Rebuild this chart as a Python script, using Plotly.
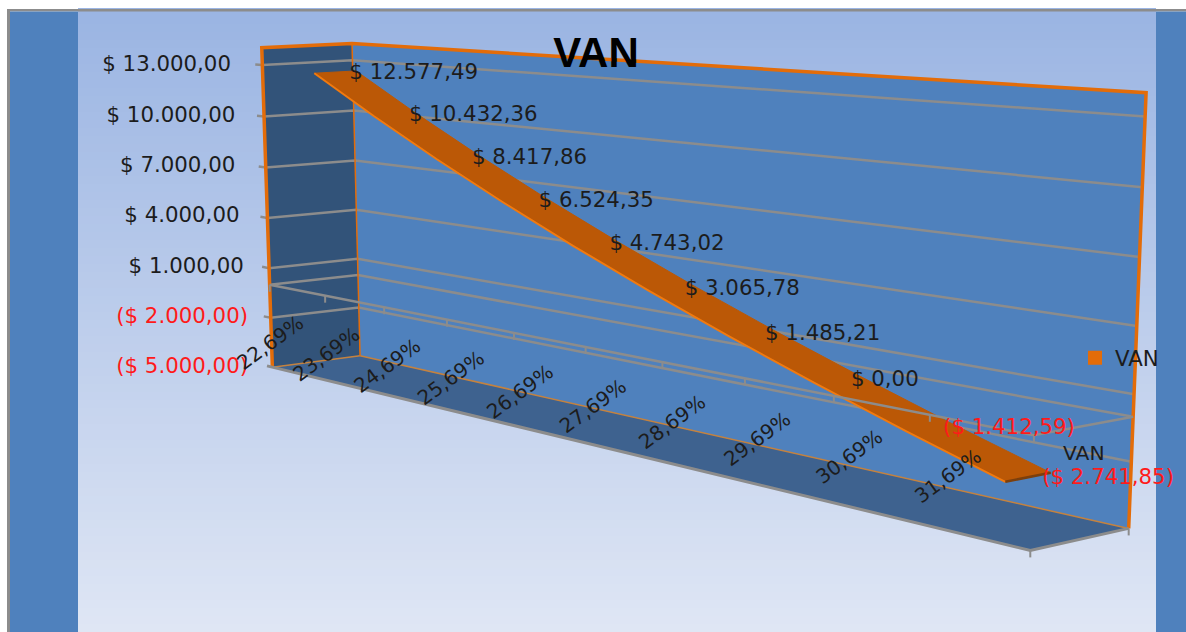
import numpy as np
import plotly.graph_objects as go

# ---- chart data ----
categories = ["22,69%", "23,69%", "24,69%", "25,69%", "26,69%", "27,69%", "28,69%", "29,69%", "30,69%", "31,69%"]
van_values = [12577.49, 10432.36, 8417.86, 6524.35, 4743.02, 3065.78, 1485.21, 0.00, -1412.59, -2741.85]
van_labels = ["$ 12.577,49", "$ 10.432,36", "$ 8.417,86", "$ 6.524,35", "$ 4.743,02", "$ 3.065,78",
              "$ 1.485,21", "$ 0,00", "($ 1.412,59)", "($ 2.741,85)"]
axis_values = [13000, 10000, 7000, 4000, 1000, -2000, -5000]
axis_labels = ["$ 13.000,00", "$ 10.000,00", "$ 7.000,00", "$ 4.000,00", "$ 1.000,00", "($ 2.000,00)", "($ 5.000,00)"]
series_name = "VAN"

# ---- view of the 3-D box: (category pos, value, depth) seen at (px, py) ----
W, H = 1186, 632
VMIN, VMAX = -5000, 14000
view = [
    (0, VMAX, 1, 352, 44), (10, VMAX, 1, 1146, 92), (10, VMIN, 1, 1130, 528), (0, VMIN, 1, 360, 356),
    (0, VMAX, 0, 262, 47), (0, VMIN, 0, 272, 366), (10, VMIN, 0, 1030, 549),
    (0, 0, 0, 270, 284), (10, 0, 0, 1034, 437), (10, 0, 1, 1132, 417), (0, 0, 1, 358, 275),
    (1, 0, 0, 325, 297), (2, 0, 0, 384, 308), (3, 0, 0, 447, 320), (9, 0, 0, 930, 415),
]
A, b = [], []
for k, v, d, px, py in view:
    X, Y, Z = k, v / 1000, d
    A.append([X, Y, Z, 1, 0, 0, 0, 0, -px * X, -px * Y, -px * Z]); b.append(px)
    A.append([0, 0, 0, 0, X, Y, Z, 1, -py * X, -py * Y, -py * Z]); b.append(py)
p = np.linalg.lstsq(np.array(A, float), np.array(b, float), rcond=None)[0]

PX_PER_VALUE = (366 - 63.7) / 18000
def to_y(py):
    return -5000 + (366 - np.asarray(py, float)) / PX_PER_VALUE

def pix(k, v, d):
    X, Y, Z = np.asarray(k, float), np.asarray(v, float) / 1000, np.asarray(d, float)
    w = p[8] * X + p[9] * Y + p[10] * Z + 1
    return (p[0] * X + p[1] * Y + p[2] * Z + p[3]) / w, (p[4] * X + p[5] * Y + p[6] * Z + p[7]) / w

def path(points):
    xs, ys = [], []
    for k, v, d in points:
        x, y = pix(k, v, d)
        xs.append(float(x)); ys.append(float(to_y(y)))
    return xs, ys

fig = go.Figure()
def area(points, fill, line=None, width=0):
    x, y = path(points)
    fig.add_trace(go.Scatter(x=x + x[:1], y=y + y[:1], mode="lines", fill="toself", fillcolor=fill,
                             line=dict(color=line or fill, width=width), hoverinfo="skip", showlegend=False))
def stroke(points, color, width):
    x, y = path(points)
    fig.add_trace(go.Scatter(x=x, y=y, mode="lines", line=dict(color=color, width=width),
                             hoverinfo="skip", showlegend=False))

# walls
area([(0, VMIN, 0), (0, VMAX, 0), (0, VMAX, 1), (0, VMIN, 1)], "#325379")
area([(0, VMIN, 1), (0, VMAX, 1), (10, VMAX, 1), (10, VMIN, 1)], "#4f81bd")
area([(0, VMIN, 0), (0, VMIN, 1), (10, VMIN, 1), (10, VMIN, 0)], "#3e628f")

GRID = "#8c8c8c"
for v in axis_values[:-1]:
    stroke([(-0.13, v, 0), (0, v, 0), (0, v, 1), (10, v, 1)], GRID, 2.5)
stroke([(0, 0, 0), (0, 0, 1), (10, 0, 1)], GRID, 2.5)

ORANGE = "#e36c09"
stroke([(0, VMIN, 1), (10, VMIN, 1)], "#c4823f", 1.5)
stroke([(0, VMIN, 0), (0, VMIN, 1)], "#c4823f", 1.5)
stroke([(0, VMIN, 1), (0, VMAX, 1)], ORANGE, 1.5)
stroke([(0, VMIN, 0), (0, VMAX, 0), (0, VMAX, 1), (10, VMAX, 1), (10, VMIN, 1)], ORANGE, 3.5)
stroke([(-0.1, VMIN, 0), (10, VMIN, 0), (10, VMIN, 1)], GRID, 3)

# the series ribbon
centres = [i + 0.5 for i in range(len(van_values))]
D_FRONT, D_BACK = 0.26, 0.72
ribbon = [(k, v, D_BACK) for k, v in zip(centres, van_values)] + \
         [(k, v, D_FRONT) for k, v in zip(centres[::-1], van_values[::-1])]
rx, ry = path(ribbon)
fig.add_trace(go.Scatter(x=rx + rx[:1], y=ry + ry[:1], mode="lines", fill="toself", fillcolor="#bb5806",
                         line=dict(color="#bb5806", width=1), hoverinfo="skip", showlegend=False))
stroke([(k, v, D_FRONT) for k, v in zip(centres, van_values)], "#f07a10", 2)
stroke([(centres[-1], van_values[-1], D_FRONT), (centres[-1], van_values[-1], D_BACK)], "#7c3f0c", 2.5)
fig.add_trace(go.Scatter(x=[None], y=[None], mode="markers", name=series_name,
                         marker=dict(symbol="square", size=14, color=ORANGE), hoverinfo="skip"))

# category axis at value 0, in front of the ribbon
stroke([(0, 0, 0), (10, 0, 0), (10, 0, 1)], GRID, 2.5)
tx, ty = [], []
for k in range(11):
    x, y = pix(k, 0, 0)
    tx += [float(x), float(x), None]; ty += [float(to_y(y)), float(to_y(y + 7)), None]
for d in (0, 1):
    x, y = pix(10, VMIN, d)
    tx += [float(x), float(x), None]; ty += [float(to_y(y)), float(to_y(y + 7)), None]
fig.add_trace(go.Scatter(x=tx, y=ty, mode="lines", line=dict(color=GRID, width=2), hoverinfo="skip", showlegend=False))

# data labels
FONT = "DejaVu Sans"
INK = "#1c1c1c"
FS = 21.3
lx, ly = pix(centres, van_values, (D_FRONT + D_BACK) / 2)
fig.add_trace(go.Scatter(x=lx + 14, y=to_y(ly + 1.5), mode="text", text=van_labels, textposition="middle right",
                         textfont=dict(family=FONT, size=FS, color=["#ff1a1a" if v < 0 else INK for v in van_values]),
                         hoverinfo="skip", showlegend=False))

annotations = []
for i, c in enumerate(categories):
    x, y = pix(i * 1.02, 0, 0)
    annotations.append(dict(x=float(x), y=float(to_y(y + 58)), xref="x", yref="y", text=c, textangle=-36,
                            showarrow=False, font=dict(family=FONT, size=20, color=INK)))
ex, ey = pix(centres[-1], van_values[-1], D_BACK)
annotations.append(dict(x=float(ex) + 10, y=float(to_y(ey - 20)), xref="x", yref="y", text=series_name, xanchor="left",
                        showarrow=False, font=dict(family=FONT, size=FS - 1, color=INK)))

# page background: frame, side bands, vertical gradient
shapes = []
def rect(x0, y0, x1, y1, color):
    shapes.append(dict(type="rect", xref="x", yref="paper", x0=x0, x1=x1, y0=1 - y0 / H, y1=1 - y1 / H,
                       fillcolor=color, line_width=0, layer="below"))
top, bot = np.array([155, 181, 227]), np.array([224, 231, 245])
STEP = 8
edges = list(range(8, H, STEP)) + [H]
for y0, y1 in zip(edges[:-1], edges[1:]):
    c = top + (bot - top) * (y0 - 8) / (H - 8)
    rect(78, y0, 1156, y1, "rgb(%d,%d,%d)" % tuple(c))
rect(7, 9, W, 11.5, "#8c8c8c")
rect(7, 9, 10, H, "#8c8c8c")
rect(10, 11.5, 78, H, "#4f81bd")
rect(1156, 11.5, W, H, "#4f81bd")

pads = [4, 3, 3, 2, 1, 0, 0]
ticktext = []
for lab, v, n in zip(axis_labels, axis_values, pads):
    t = lab + "\u2009" * n
    ticktext.append('<span style="color:#ff1a1a">%s</span>' % t if v < 0 else t)

fig.update_layout(
    width=W, height=H, margin=dict(l=0, r=0, t=0, b=0), paper_bgcolor="white", plot_bgcolor="rgba(0,0,0,0)",
    title=dict(text="<b>VAN</b>", x=596 / W, xanchor="center", y=1 - 52 / H, yanchor="middle",
               font=dict(family="Liberation Sans", size=42, color="#000000")),
    xaxis=dict(range=[0, W], visible=False, fixedrange=True),
    yaxis=dict(range=[float(to_y(H)), float(to_y(0))], anchor="free", position=248 / W, side="left",
               tickmode="array", tickvals=axis_values, ticktext=ticktext, ticks="", showgrid=False,
               zeroline=False, showline=False, fixedrange=True, tickfont=dict(family=FONT, size=FS, color=INK)),
    legend=dict(x=1075 / W, y=1 - 358 / H, xanchor="left", yanchor="middle", bgcolor="rgba(0,0,0,0)",
                font=dict(family=FONT, size=FS, color=INK), itemwidth=30),
    shapes=shapes, annotations=annotations,
)
fig.write_html("out.html", config=dict(displayModeBar=False), post_script="document.body.style.margin='0';")
